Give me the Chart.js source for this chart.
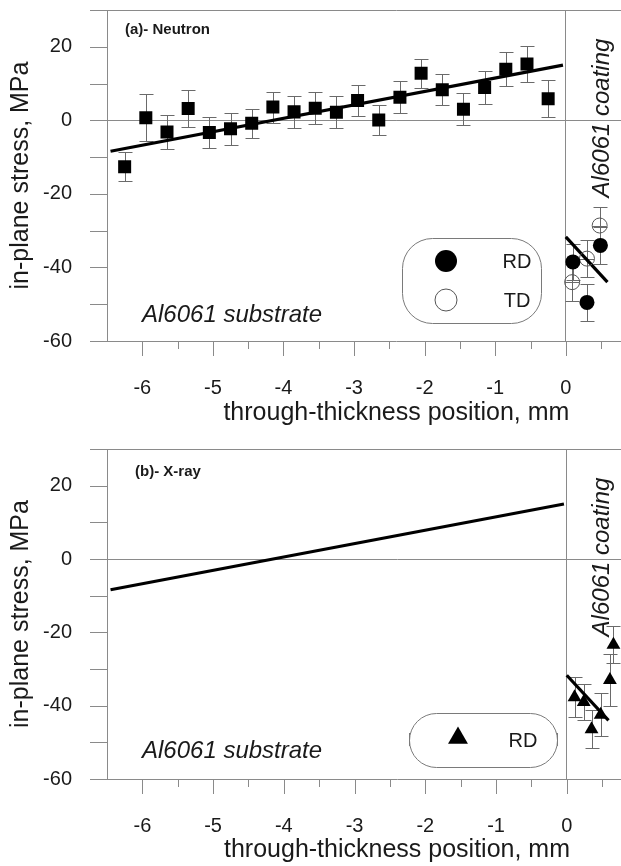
<!DOCTYPE html>
<html>
<head>
<meta charset="utf-8">
<script src="https://cdn.jsdelivr.net/npm/chart.js@4.4.0/dist/chart.umd.min.js"></script>
<style>
  html, body { margin: 0; padding: 0; background: #fff; overflow: hidden; }
  canvas { position: absolute; left: 0; }
  #neutron { top: 0; }
  #xray { top: 430px; }
</style>
</head>
<body>
<!-- the plot runs on past the right edge of the window, as in the figure -->
<canvas id="neutron" width="695" height="430"></canvas>
<canvas id="xray" width="695" height="436"></canvas>
<script>
// substrate, neutron (squares)
const subX = [-6.25, -5.95, -5.65, -5.35, -5.05, -4.75, -4.45, -4.15, -3.85, -3.55, -3.25,
              -2.95, -2.65, -2.35, -2.05, -1.75, -1.45, -1.15, -0.85, -0.55, -0.25];
const subY = [-12.6, 0.7, -3.2, 3.2, -3.3, -2.3, -0.8, 3.6, 2.3, 3.3, 2.2,
              5.4, 0.1, 6.3, 12.8, 8.3, 3.0, 8.9, 13.9, 15.3, 5.9];
const subErr = [3.9, 6.4, 4.6, 5.0, 4.3, 4.3, 4.0, 4.2, 4.3, 4.3, 4.3,
                4.2, 4.2, 4.3, 4.0, 4.2, 4.3, 4.4, 4.6, 4.9, 5.0];

// coating, neutron
const rdX = [0.10, 0.30, 0.49];
const rdY = [-38.5, -49.5, -34.0];
const rdErr = [5, 5, 5];
const tdX = [0.09, 0.30, 0.48];
const tdY = [-44.0, -37.6, -28.6];
const tdErr = [5, 5, 5];
const coatXErr = [0.1, 0.1, 0.1];

// coating, x-ray
const xrayX = [0.11, 0.24, 0.35, 0.48, 0.61, 0.66];
const xrayY = [-37.7, -39.0, -46.4, -42.5, -33.0, -23.4];
const xrayErr = [5.5, 5.0, 5.2, 5.9, 7.0, 5.0];

// fitted lines (end points)
const fitX = [-6.45, -0.04];
const fitY = [-8.4, 15.0];
const coatFitX = [0.0, 0.59];
const coatFitY = [-31.7, -44.0];

// axis ticks
const yTickVals = [-60, -50, -40, -30, -20, -10, 0, 10, 20, 30];
const xMajor = [-6, -5, -4, -3, -2, -1, 0, 1];
const xMinor = [-5.5, -4.5, -3.5, -2.5, -1.5, -0.5, 0.5, 1.5];

const FONT = '"Liberation Sans", Arial, sans-serif';
const GRAY = '#8a8a8a';
const ERR = '#6a6a6a';
const INK = '#1a1a1a';

const pts = (xs, ys) => xs.map((x, i) => ({x, y: ys[i]}));

function frame(errors) {
  return {
    id: 'frame',
    beforeDatasetsDraw(chart) {
      const {ctx, chartArea: a, scales: {x, y}} = chart;
      const ln = (x1, y1, x2, y2) => { ctx.beginPath(); ctx.moveTo(x1, y1); ctx.lineTo(x2, y2); ctx.stroke(); };
      ctx.save();
      ctx.lineWidth = 1;
      ctx.strokeStyle = GRAY;
      ln(a.left, a.top + 0.5, a.right, a.top + 0.5);
      yTickVals.forEach(v => {
        const py = Math.round(y.getPixelForValue(v)) + 0.5;
        ln(a.left - 17, py, a.left, py);
      });
      xMajor.forEach(v => {
        const px = Math.round(x.getPixelForValue(v)) + 0.5;
        ln(px, a.bottom, px, a.bottom + 15);
      });
      xMinor.forEach(v => {
        const px = Math.round(x.getPixelForValue(v)) + 0.5;
        ln(px, a.bottom, px, a.bottom + 8);
      });
      // error bars
      ctx.strokeStyle = ERR;
      errors.forEach(e => {
        e.xs.forEach((v, i) => {
          const px = Math.round(x.getPixelForValue(v)) + 0.5;
          const py = y.getPixelForValue(e.ys[i]);
          const t = Math.round(y.getPixelForValue(e.ys[i] + e.err[i])) + 0.5;
          const b = Math.round(y.getPixelForValue(e.ys[i] - e.err[i])) + 0.5;
          ln(px, t, px, b);
          ln(px - 7, t, px + 7, t);
          ln(px - 7, b, px + 7, b);
          if (e.xerr) {
            const l = x.getPixelForValue(v - e.xerr[i]);
            const r = x.getPixelForValue(v + e.xerr[i]);
            ln(l, Math.round(py) + 0.5, r, Math.round(py) + 0.5);
          }
        });
      });
      ctx.restore();
    }
  };
}

function roundBox(ctx, l, t, r, b, rad) {
  ctx.beginPath();
  ctx.moveTo(l + rad, t);
  ctx.lineTo(r - rad, t);
  ctx.arcTo(r, t, r, t + rad, rad);
  ctx.lineTo(r, b - rad);
  ctx.arcTo(r, b, r - rad, b, rad);
  ctx.lineTo(l + rad, b);
  ctx.arcTo(l, b, l, b - rad, rad);
  ctx.lineTo(l, t + rad);
  ctx.arcTo(l, t, l + rad, t, rad);
  ctx.closePath();
  ctx.stroke();
}

function notes(label, lx, ly, subBase, coatMid, legend) {
  return {
    id: 'notes',
    afterDraw(chart) {
      const ctx = chart.ctx;
      ctx.save();
      ctx.fillStyle = INK;
      ctx.font = 'bold 15px ' + FONT;
      ctx.textBaseline = 'middle';
      ctx.textAlign = 'left';
      ctx.fillText(label, lx, ly);

      ctx.font = 'italic 24px ' + FONT;
      ctx.textBaseline = 'alphabetic';
      ctx.fillText('Al6061 substrate', 142, subBase);

      ctx.save();
      ctx.translate(602, coatMid);
      ctx.rotate(-Math.PI / 2);
      ctx.textAlign = 'center';
      ctx.textBaseline = 'middle';
      ctx.fillText('Al6061 coating', 0, 0);
      ctx.restore();

      legend(ctx);
      ctx.restore();
    }
  };
}

function neutronLegend(ctx) {
  ctx.strokeStyle = '#7a7a7a';
  ctx.lineWidth = 1;
  roundBox(ctx, 402.5, 238.5, 541.5, 323.5, 30);
  ctx.fillStyle = '#000';
  ctx.beginPath(); ctx.arc(446, 261, 11, 0, Math.PI * 2); ctx.fill();
  ctx.strokeStyle = '#555';
  ctx.beginPath(); ctx.arc(446, 300, 11, 0, Math.PI * 2); ctx.stroke();
  ctx.fillStyle = INK;
  ctx.font = '20px ' + FONT;
  ctx.textAlign = 'center';
  ctx.textBaseline = 'middle';
  ctx.fillText('RD', 517, 262);
  ctx.fillText('TD', 517, 301);
}

function xrayLegend(ctx) {
  ctx.strokeStyle = '#7a7a7a';
  ctx.lineWidth = 1;
  roundBox(ctx, 409.5, 283.5, 557.5, 337.5, 27);
  ctx.beginPath(); ctx.moveTo(409.5, 303); ctx.lineTo(409.5, 316); ctx.stroke();
  ctx.beginPath(); ctx.moveTo(557.5, 303); ctx.lineTo(557.5, 316); ctx.stroke();
  const r = 11.5, cx = 458, cy = 308;
  ctx.fillStyle = '#000';
  ctx.beginPath();
  ctx.moveTo(cx, cy - r);
  ctx.lineTo(cx + r * 0.866, cy + r / 2);
  ctx.lineTo(cx - r * 0.866, cy + r / 2);
  ctx.closePath();
  ctx.fill();
  ctx.fillStyle = INK;
  ctx.font = '20px ' + FONT;
  ctx.textAlign = 'center';
  ctx.textBaseline = 'middle';
  ctx.fillText('RD', 523, 311);
}

const fitLine = (xs, ys) => ({
  data: pts(xs, ys), showLine: true, borderColor: '#000', borderWidth: 3.2,
  pointRadius: 0, fill: false
});

function makeChart(id, padTop, axisH, titleBottom, datasets, errors, plugin) {
  return new Chart(document.getElementById(id), {
    type: 'scatter',
    data: {datasets},
    options: {
      responsive: false,
      animation: false,
      devicePixelRatio: 1,
      layout: {padding: {top: padTop, left: 0, right: 0, bottom: 0}},
      plugins: {legend: {display: false}, tooltip: {enabled: false}},
      scales: {
        x: {
          type: 'linear', min: -6.5, max: 1.7,
          border: {color: GRAY, width: 1},
          grid: {drawTicks: false, color: c => (c.tick && c.tick.value === 0) ? GRAY : 'transparent'},
          ticks: {stepSize: 1, includeBounds: false, padding: 35, autoSkip: false, maxRotation: 0,
                  color: INK, font: {family: FONT, size: 20}, callback: v => String(v)},
          title: {display: true, text: 'through-thickness position, mm', color: INK,
                  font: {family: FONT, size: 25}, padding: {top: 0, bottom: titleBottom}},
          afterFit: s => { s.height = axisH; s.paddingLeft = 0; s.paddingRight = 0; }
        },
        y: {
          type: 'linear', min: -60, max: 30,
          border: {color: GRAY, width: 1},
          grid: {drawTicks: false, color: c => (c.tick && c.tick.value === 0) ? GRAY : 'transparent'},
          ticks: {stepSize: 10, padding: 35, autoSkip: false, color: INK, font: {family: FONT, size: 20},
                  callback: v => (v % 20 === 0 ? String(v) : null)},
          title: {display: true, text: 'in-plane stress, MPa', color: INK,
                  font: {family: FONT, size: 25}, padding: {top: 6, bottom: 0}},
          afterFit: s => { s.width = 107; s.paddingTop = 0; s.paddingBottom = 0; }
        }
      }
    },
    plugins: [frame(errors), plugin]
  });
}

makeChart('neutron', 10, 89, 2, [
  {data: pts(subX, subY), pointStyle: 'rect', pointRadius: 9.2, backgroundColor: '#000', borderWidth: 0},
  {data: pts(rdX, rdY), pointStyle: 'circle', pointRadius: 7.5, backgroundColor: '#000', borderWidth: 0},
  {data: pts(tdX, tdY), pointStyle: 'circle', pointRadius: 7.5, backgroundColor: 'transparent',
   borderColor: '#555', borderWidth: 1},
  fitLine(fitX, fitY),
  fitLine(coatFitX, coatFitY)
], [
  {xs: subX, ys: subY, err: subErr},
  {xs: rdX, ys: rdY, err: rdErr},
  {xs: tdX, ys: tdY, err: tdErr, xerr: coatXErr}
], notes('(a)- Neutron', 125, 30, 322, 118, neutronLegend));

makeChart('xray', 19, 87, 1, [
  {data: pts(xrayX, xrayY), pointStyle: 'triangle', pointRadius: 8, backgroundColor: '#000', borderWidth: 0},
  fitLine(fitX, fitY),
  fitLine(coatFitX, coatFitY)
], [
  {xs: xrayX, ys: xrayY, err: xrayErr}
], notes('(b)- X-ray', 135, 42, 328, 127, xrayLegend));
</script>
</body>
</html>
